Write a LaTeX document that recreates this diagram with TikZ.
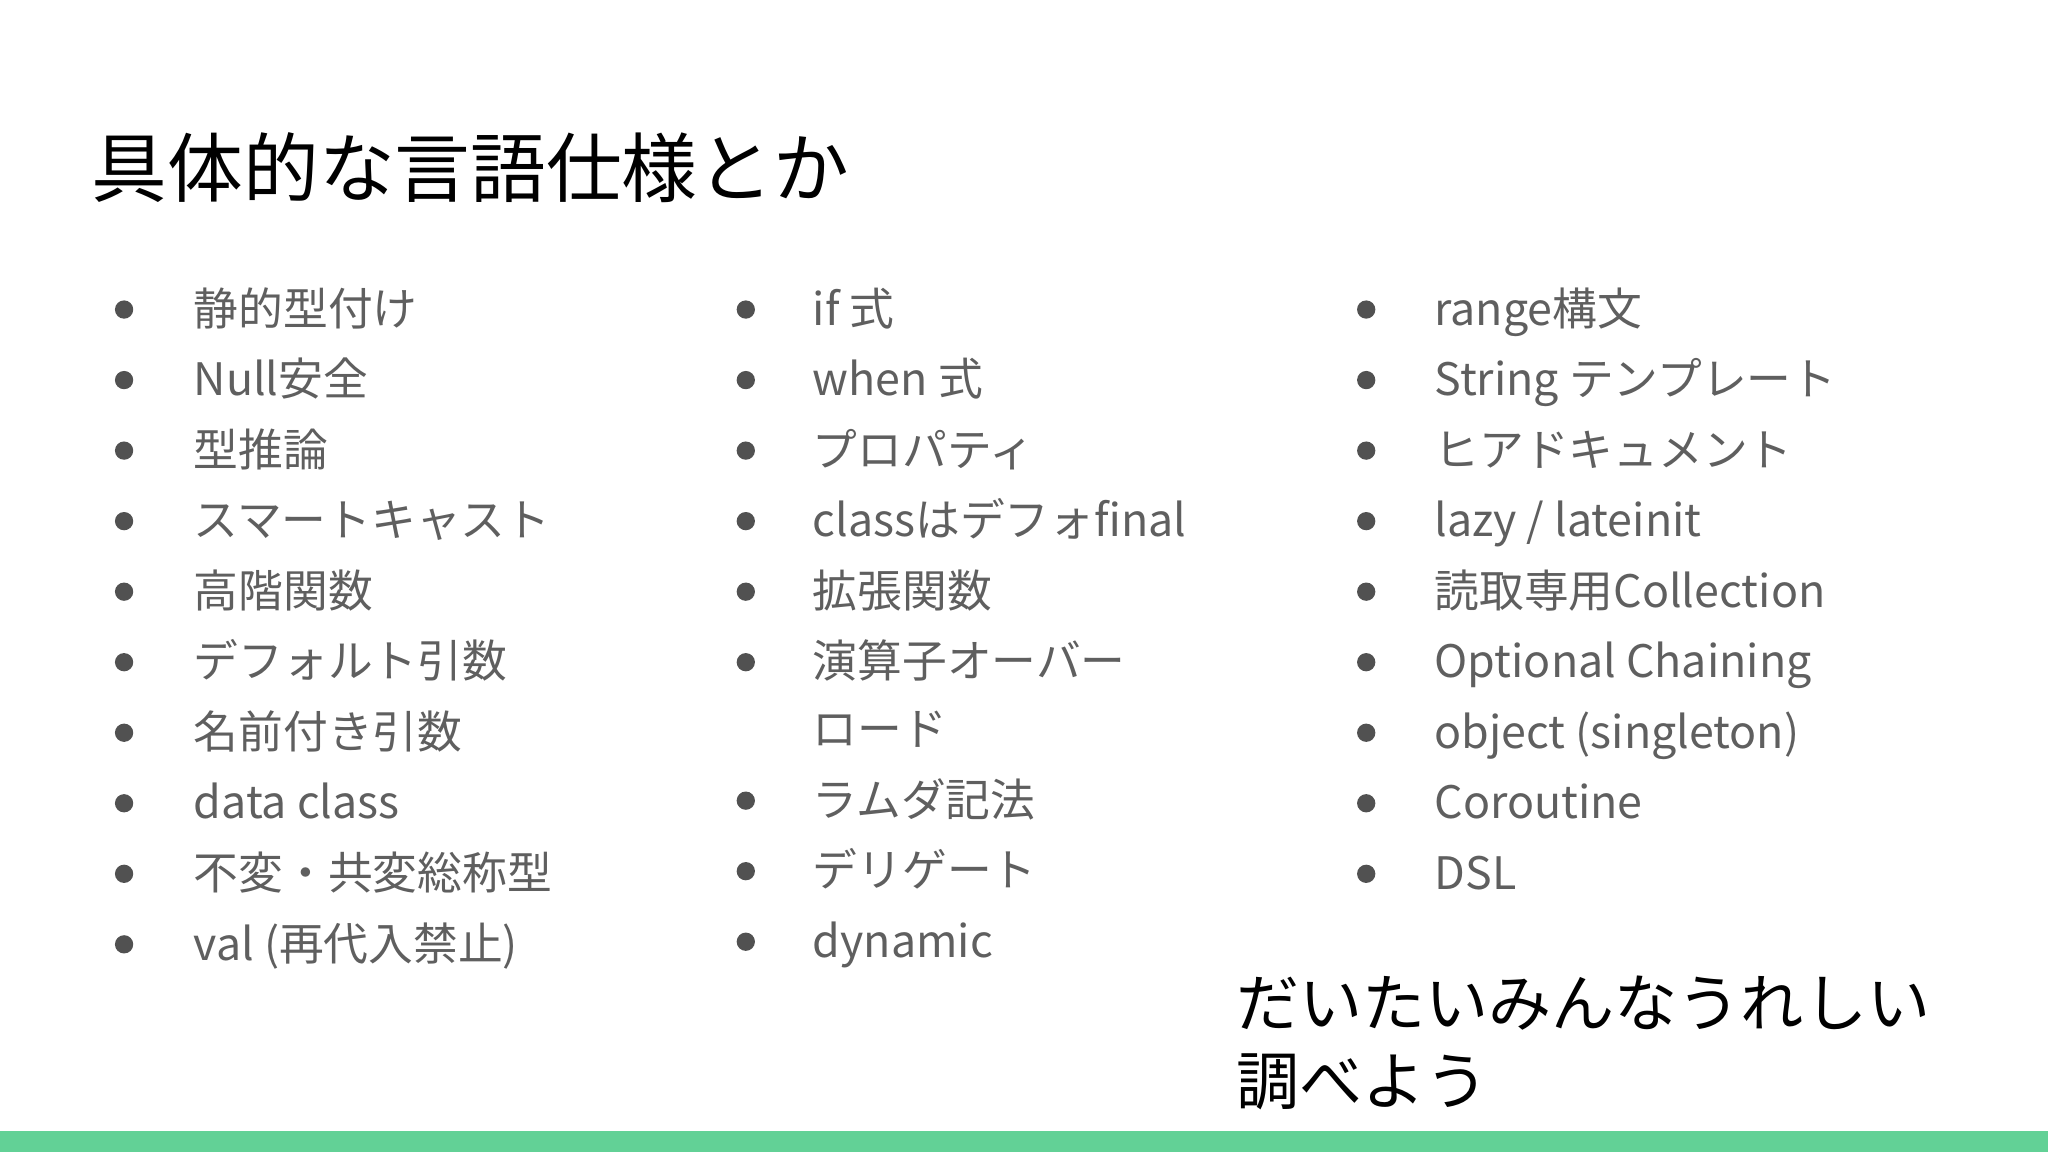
\documentclass[tikz,border=0pt]{standalone}
\usepackage{fontspec}
\setmainfont{Noto Sans CJK JP}
\definecolor{itemgray}{HTML}{5F5F5F}
\definecolor{bargreen}{HTML}{62D196}
\begin{document}
\begin{tikzpicture}[x=0.02cm,y=-0.02cm,
  item/.style={anchor=base west,inner sep=0pt,text=itemgray,font=\fontsize{19.5}{22}\selectfont},
  bul/.style={fill=itemgray!85!black,draw=none},
  big/.style={anchor=base west,inner sep=0pt,font=\fontsize{27.5}{34}\selectfont}]
\useasboundingbox (0,0) rectangle (1568,882);
\fill[bargreen] (0,866) rectangle (1568,882);
\node[anchor=west,inner sep=0pt,font=\fontsize{33}{40}\selectfont] (title) at (70,128) {具体的な言語仕様とか};
% column 1
\foreach \t [count=\i] in {静的型付け,Null安全,型推論,スマートキャスト,高階関数,デフォルト引数,名前付き引数,data class,不変・共変総称型,val (再代入禁止)}{
  \fill[bul] (95,{237+54*(\i-1)}) circle (7);
  \node[item] (a\i) at (148,{249+54*(\i-1)}) {\t};
}
% column 2
\foreach \t/\y [count=\i] in {if 式/237,when 式/291,プロパティ/345,classはデフォfinal/399,拡張関数/453,演算子オーバー/507,ラムダ記法/613,デリゲート/667,dynamic/721}{
  \fill[bul] (571,\y) circle (7);
  \node[item] (b\i) at (622,\y+12) {\t};
}
\node[item] (b6b) at (622,571) {ロード};
% column 3
\foreach \t [count=\i] in {range構文,String テンプレート,ヒアドキュメント,lazy / lateinit,読取専用Collection,Optional Chaining,object (singleton),Coroutine,DSL}{
  \fill[bul] (1046,{237+54*(\i-1)}) circle (7);
  \node[item] (c\i) at (1098,{249+54*(\i-1)}) {\t};
}
\node[big] (n1) at (946,786) {だいたいみんなうれしい};
\node[big] (n2) at (946,846) {調べよう};
\end{tikzpicture}
\end{document}
